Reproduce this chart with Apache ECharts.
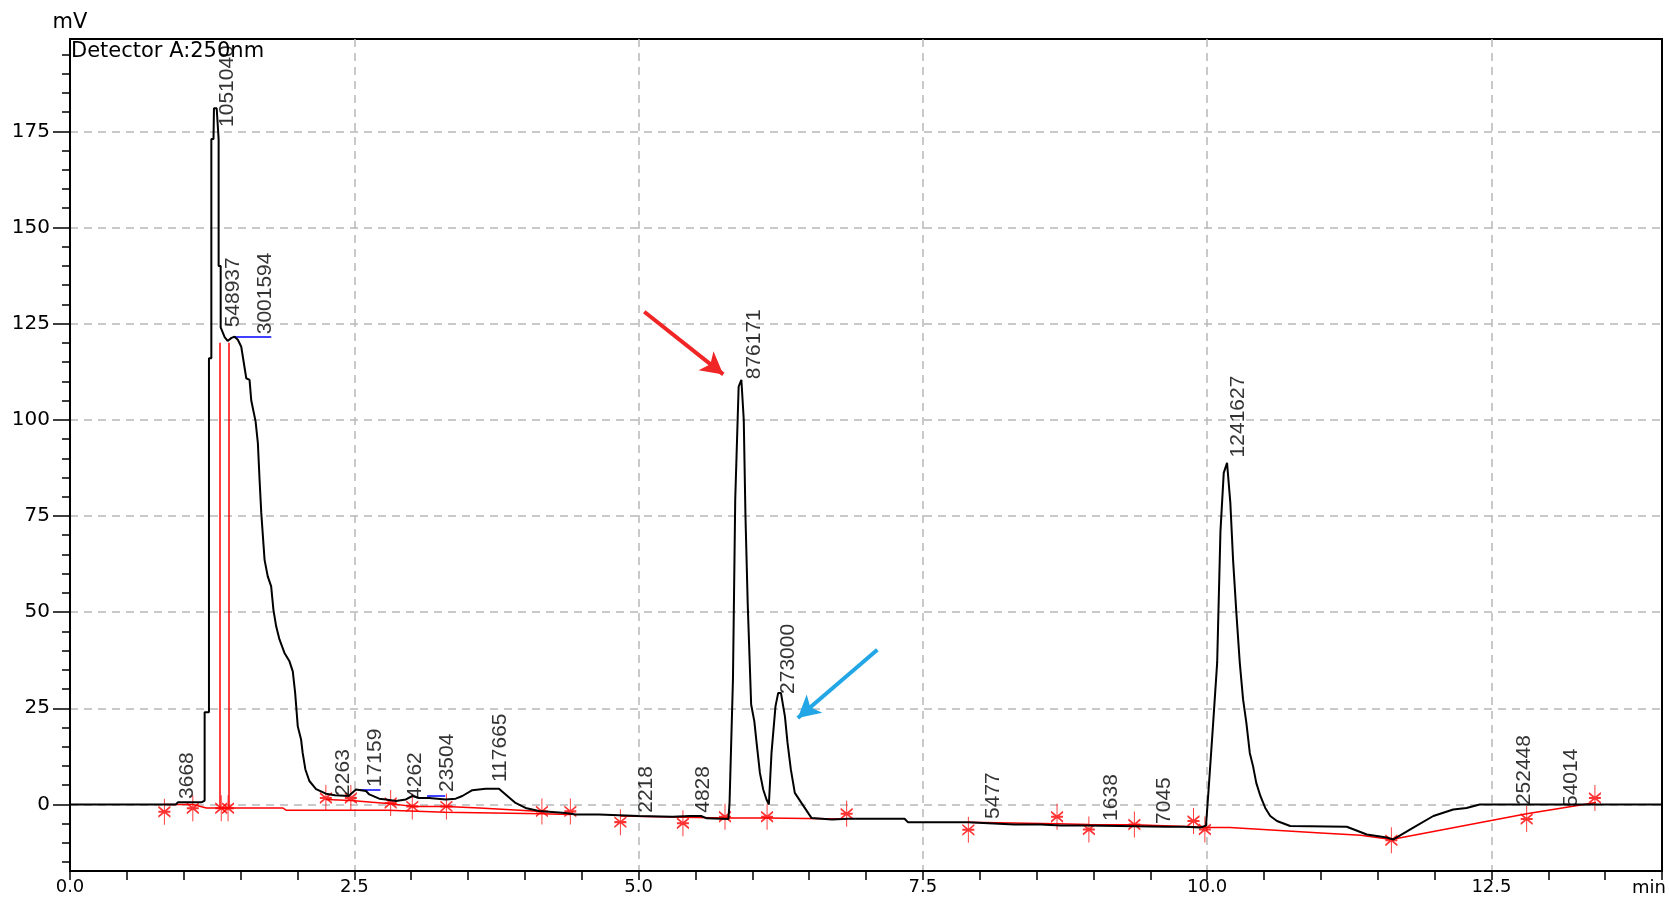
<!DOCTYPE html>
<html><head><meta charset="utf-8">
<script src="https://cdn.jsdelivr.net/npm/echarts@6/dist/echarts.min.js"></script>
<style>html,body{margin:0;padding:0;background:#fff}#c{width:1669px;height:914px}</style>
</head><body><div id="c"></div>
<script>
// ---- chromatogram trace (retention time in min, signal in mV) ----
const traceTime = [0.00,0.93,0.95,1.16,1.184,1.184,1.222,1.222,1.243,1.243,1.262,1.266,1.29,1.307,1.307,1.325,1.325,1.36,1.386,1.42,1.447,1.476,1.506,1.55,1.579,1.594,1.632,1.652,1.667,1.682,1.711,1.739,1.769,1.789,1.813,1.842,1.886,1.93,1.959,1.98,2.003,2.032,2.046,2.07,2.105,2.164,2.25,2.33,2.45,2.515,2.603,2.632,2.719,2.778,2.866,2.954,3.011,3.07,3.158,3.304,3.392,3.45,3.538,3.655,3.772,3.831,3.918,4.006,4.123,4.357,4.445,4.65,5.0,5.3,5.45,5.55,5.6,5.79,5.80,5.83,5.85,5.88,5.904,5.925,5.94,5.96,5.99,6.018,6.038,6.067,6.096,6.125,6.146,6.169,6.204,6.228,6.252,6.287,6.31,6.339,6.374,6.432,6.52,6.70,6.842,7.339,7.368,7.895,8.304,8.538,8.713,8.947,9.649,9.795,9.941,9.99,10.015,10.053,10.088,10.117,10.146,10.175,10.204,10.228,10.257,10.287,10.316,10.345,10.375,10.404,10.432,10.468,10.511,10.555,10.614,10.73,11.228,11.404,11.579,11.638,11.813,11.989,12.164,12.281,12.397,14.0];
const traceSignal = [0,0,0.6,0.6,1.0,24,24,116,116,173,173,181,181,173,140,140,124,121.5,120.5,121.3,121.6,120.8,119,110.8,110.4,105,99.6,94,84.4,75.8,63.6,59.3,56.7,50.6,46.3,42.9,39.4,37.2,34.6,29,20.3,16.9,13.4,9.1,6.1,4.0,2.8,2.4,2.2,3.9,3.5,2.6,1.5,1.3,0.9,1.3,2.2,1.7,1.7,1.3,1.5,2.2,3.7,4.1,4.1,2.6,0.4,-0.9,-1.7,-2.2,-2.6,-2.6,-3.0,-3.2,-3.0,-3.0,-3.6,-3.8,0.4,32.5,79.2,108.6,110.4,100,75,52,26,21.6,16,8.2,3.9,1.3,0.0,13.4,25.5,29,29,22.9,16,9.1,3.0,0.4,-3.5,-3.9,-3.7,-3.7,-4.6,-4.6,-5.2,-5.2,-5.5,-5.5,-5.8,-5.8,-6.0,-5.5,4.8,21.2,36.8,71,86.2,88.8,78.4,63.6,49.8,36.8,27.3,21.2,13.4,9.9,5.6,2.2,-0.9,-3.0,-4.3,-5.6,-5.8,-7.8,-8.6,-9.1,-6.0,-3.0,-1.3,-0.9,0,0];

// ---- integration baselines (null = break) ----
const redBaseTime  = [0.83,1.08,1.20,1.87,1.90,2.80,3.30,4.15,4.40,null,2.25,2.47,2.82,3.01,3.31,3.60,4.15,null,4.84,5.39,5.76,6.13,6.83,null,7.90,8.68,8.96,9.36,9.88,9.98,10.20,10.60,11.00,11.35,11.62,12.81,13.42];
const redBaseLevel = [0,0,-0.9,-0.9,-1.5,-1.5,-2.0,-2.4,-2.6,null,1.3,1.0,0.2,-0.5,-0.5,-0.9,-1.8,null,-3.0,-3.3,-3.5,-3.5,-3.8,null,-4.6,-5.0,-5.2,-5.3,-5.8,-6.0,-6.0,-6.7,-7.4,-8.0,-9.1,-2.4,0.5];

// ---- peak start/end markers ----
const markerTime  = [0.83,1.08,1.33,1.39,2.25,2.47,2.82,3.01,3.31,4.15,4.40,4.84,5.39,5.76,6.13,6.83,7.90,8.68,8.96,9.36,9.88,9.98,11.62,12.81,13.41];
const markerLevel = [-1.9,-1.0,-1.0,-1.0,1.7,1.7,0.4,-0.5,-0.5,-1.8,-1.8,-4.6,-4.9,-3.2,-3.2,-2.4,-6.6,-3.2,-6.5,-5.2,-4.3,-6.5,-9.3,-3.8,1.7];

// ---- vertical drop lines and peak-top lines ----
const dropTime = [1.32, 1.40];
const dropTop = [120, 120];
const dropBottom = [-0.9, -0.9];
const blueStart = [1.45, 2.54, 3.14];
const blueEnd = [1.77, 2.73, 3.30];
const blueLevel = [121.6, 3.7, 2.2];

// ---- peak area labels ----
const peakTime  = [1.298,1.351,1.632,5.93,6.228,10.184,0.947,2.316,2.596,2.947,3.228,3.693,4.982,5.482,8.035,9.07,9.535,12.70,13.114];
const peakLevel = [176,123.9,122.1,110.4,28.6,90.1,1.3,2.1,4.4,1.3,3.1,5.7,-2.3,-2.3,-3.9,-4.4,-5.2,-0.3,-0.8];
const peakArea  = ['1051040','548937','3001594','876171','273000','1241627','3668','2263','17159','4262','23504','117665','2218','4828','5477','1638','7045','252448','54014'];

// ---- annotation arrows ----
const redArrow = [[5.05,128.1],[5.745,111.8]];
const blueArrow = [[7.10,40.2],[6.40,22.5]];

// ---- axis ticks ----
const xMajor = [0,2.5,5,7.5,10,12.5];
const xMinor = [0,0.5,1,1.5,2,2.5,3,3.5,4,4.5,5,5.5,6,6.5,7,7.5,8,8.5,9,9.5,10,10.5,11,11.5,12,12.5,13,13.5,14];
const yMajor = [0,25,50,75,100,125,150,175];
const yMinor = [-15,-10,-5,0,5,10,15,20,25,30,35,40,45,50,55,60,65,70,75,80,85,90,95,100,105,110,115,120,125,130,135,140,145,150,155,160,165,170,175,180,185,190,195];

const chart = echarts.init(document.getElementById('c'));
const axisFont = 'DejaVu Sans';
const gridLine = {show:true, lineStyle:{color:'#b8b8b8', width:1.5, type:[8,6]}};

const markLines = [];
dropTime.forEach((t,i)=>markLines.push([{coord:[t,dropTop[i]], lineStyle:{color:'#ff0000',width:1.5,type:'solid'}},{coord:[t,dropBottom[i]]}]));
blueStart.forEach((t,i)=>markLines.push([{coord:[t,blueLevel[i]], lineStyle:{color:'#0000ff',width:1.5,type:'solid'}},{coord:[blueEnd[i],blueLevel[i]]}]));
markLines.push([{coord:redArrow[0], symbol:'none', lineStyle:{color:'#f02525',width:4,type:'solid'}},{coord:redArrow[1], symbol:'arrow', symbolSize:[18,22]}]);
markLines.push([{coord:blueArrow[0], symbol:'none', lineStyle:{color:'#22a6e6',width:4,type:'solid'}},{coord:blueArrow[1], symbol:'arrow', symbolSize:[18,22]}]);

chart.setOption({
  animation:false,
  backgroundColor:'#fff',
  title:{text:'Detector A:250nm', left:71, top:41, padding:0,
    textStyle:{fontFamily:axisFont, fontSize:21, fontWeight:'normal', color:'#000'}},
  grid:{left:70, right:7, top:39, bottom:43, show:true, borderColor:'#000', borderWidth:2, containLabel:false, outerBoundsMode:'none'},
  xAxis:[
    {type:'value', min:0, max:14, position:'bottom',
     axisLine:{show:true, onZero:false, lineStyle:{color:'#000', width:2}},
     axisTick:{show:true, length:9, customValues:xMajor, lineStyle:{color:'#000', width:1.5}},
     axisLabel:{show:true, customValues:xMajor, margin:7, formatter:v=>Number(v).toFixed(1),
       fontFamily:axisFont, fontSize:18, color:'#000'},
     splitLine:gridLine,
     name:'min', nameLocation:'end', nameGap:4,
     nameTextStyle:{fontFamily:axisFont, fontSize:18, color:'#000', align:'right', verticalAlign:'top', padding:[8,0,0,0]}},
    {type:'value', min:0, max:14, position:'bottom',
     axisLine:{show:false, onZero:false}, axisTick:{show:true, length:9, customValues:xMinor, lineStyle:{color:'#000', width:1.5}},
     axisLabel:{show:false}, splitLine:{show:false}}
  ],
  yAxis:[
    {type:'value', min:-17.3, max:199, position:'left',
     axisLine:{show:true, onZero:false, lineStyle:{color:'#000', width:2}},
     axisTick:{show:true, length:17, customValues:yMajor, lineStyle:{color:'#000', width:1.5}},
     axisLabel:{show:true, customValues:yMajor, margin:20, fontFamily:axisFont, fontSize:20, color:'#000'},
     splitLine:gridLine,
     name:'mV', nameLocation:'end', nameGap:6,
     nameTextStyle:{fontFamily:axisFont, fontSize:21, color:'#000', align:'center', verticalAlign:'bottom'}},
    {type:'value', min:-17.3, max:199, position:'left',
     axisLine:{show:false, onZero:false}, axisTick:{show:true, length:8, customValues:yMinor, lineStyle:{color:'#000', width:1.5}},
     axisLabel:{show:false}, splitLine:{show:false}}
  ],
  series:[
    {name:'baseline', type:'line', xAxisIndex:0, yAxisIndex:0, showSymbol:false, symbol:'none', silent:true,
     connectNulls:false, z:3,
     data:redBaseTime.map((t,i)=> t===null ? ['-','-'] : [t, redBaseLevel[i]]),
     lineStyle:{color:'#ff0000', width:1.5}},
    {name:'markers', type:'scatter', xAxisIndex:0, yAxisIndex:0, silent:true, z:4,
     symbol:'path://M5 0L5 26M0 8L10 18M10 8L0 18M0 13L10 13', symbolSize:[12,26],
     itemStyle:{color:'none', borderColor:'#ff0000', borderWidth:1.4},
     data:markerTime.map((t,i)=>[t, markerLevel[i]])},
    {name:'trace', type:'line', xAxisIndex:0, yAxisIndex:0, showSymbol:false, symbol:'none', silent:true, z:5,
     data:traceTime.map((t,i)=>[t, traceSignal[i]]),
     lineStyle:{color:'#000', width:2},
     markLine:{silent:true, symbol:'none', label:{show:false}, animation:false, lineStyle:{type:'solid'}, data:markLines}},
    {name:'areas', type:'scatter', xAxisIndex:0, yAxisIndex:0, silent:true, z:6,
     symbolSize:1, itemStyle:{color:'rgba(0,0,0,0)'},
     data:peakTime.map((t,i)=>[t, peakLevel[i], peakArea[i]]),
     label:{show:true, position:[0,0], rotate:90, align:'left', verticalAlign:'top',
       formatter:p=>p.value[2], fontFamily:'Liberation Sans', fontSize:21, color:'#000'}}
  ]
});
</script></body></html>
